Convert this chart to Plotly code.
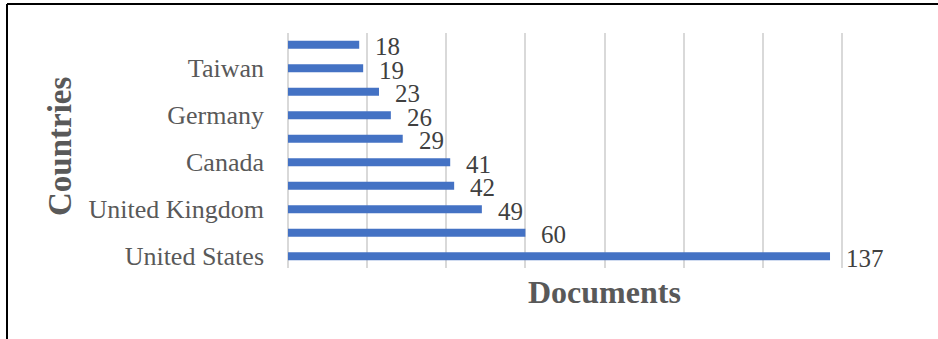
import plotly.graph_objects as go

# Documents per country (bottom to top)
countries = ["United States", "China", "United Kingdom", "India", "Canada",
             "Australia", "Germany", "Italy", "Taiwan", "Spain"]
documents = [137, 60, 49, 42, 41, 29, 26, 23, 19, 18]
shown_labels = ["United States", "United Kingdom", "Canada", "Germany", "Taiwan"]
x_ticks = [0, 20, 40, 60, 80, 100, 120, 140, 160]

W, H = 938, 339
L, R, T, B = 288, 17, 33, 71
pw, ph = W - L - R, H - T - B

def px_x(p):
    return (p - L) / pw

def px_y(p):
    return (H - B - p) / ph

fig = go.Figure(go.Bar(
    x=documents, y=countries, orientation="h",
    marker=dict(color="#4472C4", line=dict(width=0)),
    width=0.34,
))

for c, v in zip(countries, documents):
    fig.add_annotation(x=v, y=c, text=str(v), showarrow=False,
                       xanchor="left", yanchor="middle", xshift=14, yshift=-2,
                       font=dict(family="Liberation Serif", size=25, color="#404040"))

fig.add_annotation(xref="paper", yref="paper", x=0.5, y=px_y(292),
                   text="<b>Documents</b>", showarrow=False,
                   xanchor="center", yanchor="middle",
                   font=dict(family="Liberation Serif", size=32, color="#595959"))
fig.add_annotation(xref="paper", yref="paper", x=px_x(60), y=px_y(147),
                   text="<b>Countries</b>", showarrow=False, textangle=-90,
                   xanchor="center", yanchor="middle",
                   font=dict(family="Liberation Serif", size=33, color="#595959"))

# frame lines around the chart area
fig.add_shape(type="line", xref="paper", yref="paper",
              x0=px_x(7), x1=px_x(940), y0=px_y(4), y1=px_y(4),
              line=dict(color="black", width=2))
fig.add_shape(type="line", xref="paper", yref="paper",
              x0=px_x(7), x1=px_x(7), y0=px_y(4), y1=px_y(341),
              line=dict(color="black", width=2))

fig.update_layout(
    width=W, height=H,
    margin=dict(l=L, r=R, t=T, b=B),
    paper_bgcolor="white", plot_bgcolor="white",
    showlegend=False,
    xaxis=dict(range=[0, 160], tickvals=x_ticks, showticklabels=False,
               showgrid=True, gridcolor="#d9d9d9", gridwidth=1.5,
               zeroline=True, zerolinecolor="#d9d9d9", zerolinewidth=1.5,
               showline=False, fixedrange=True),
    yaxis=dict(type="category", categoryorder="array", categoryarray=countries,
               range=[-0.5, len(countries) - 0.5],
               tickvals=shown_labels, ticktext=shown_labels,
               tickfont=dict(family="Liberation Serif", size=26, color="#595959"),
               ticklabelstandoff=23, showgrid=False, showline=False,
               zeroline=False, fixedrange=True),
)

fig.write_html("out.html")
